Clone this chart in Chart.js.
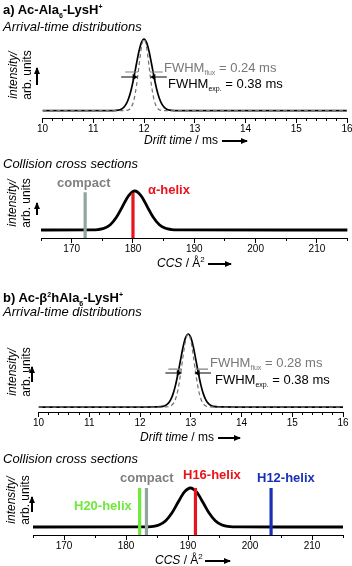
<!DOCTYPE html>
<html>
<head>
<meta charset="utf-8">
<script src="https://cdn.jsdelivr.net/npm/chart.js@4.4.1/dist/chart.umd.min.js"></script>
<style>
  html, body { margin: 0; padding: 0; background: #fff; }
  #fig { position: relative; width: 352px; height: 566px; overflow: hidden;
         font-family: "Liberation Sans", Arial, sans-serif; color: #000; }
  #fig canvas { position: absolute; left: 0; top: 0; }
  .t { position: absolute; white-space: nowrap; line-height: 1; }
  .t sub, .t sup { line-height: 0; }
  .h { font-weight: bold; font-size: 13px; }
  .h sub, .h sup { font-size: 7px; }
  .s { font-style: italic; font-size: 13px; }
  .fw { font-size: 13px; }
  .fw sub { font-size: 7px; vertical-align: -3px; }
  .ax { font-size: 12px; }
  .ax sup { font-size: 8px; }
  .lab { font-weight: bold; font-size: 13px; }
  .yl { position: absolute; width: 60px; height: 28px; font-size: 12px; line-height: 14px;
        text-align: center; white-space: nowrap; transform: rotate(-90deg); }
  .ha { position: absolute; height: 1.2px; background: #000; }
  .ha::after { content: ''; position: absolute; right: -1px; top: -2.4px;
               border-left: 7px solid #000; border-top: 3px solid transparent; border-bottom: 3px solid transparent; }
  .va { position: absolute; width: 1.4px; background: #000; }
  .va::before { content: ''; position: absolute; top: -1px; left: -2.3px;
                border-bottom: 7px solid #000; border-left: 3px solid transparent; border-right: 3px solid transparent; }
</style>
</head>
<body>
<div id="fig">
  <canvas id="atdA" width="370" height="566"></canvas>
  <canvas id="ccsA" width="370" height="566"></canvas>
  <canvas id="atdB" width="370" height="566"></canvas>
  <canvas id="ccsB" width="370" height="566"></canvas>
</div>
<script>
// tick labels
const driftTicks = [10, 11, 12, 13, 14, 15, 16];
const ccsTicks = [170, 180, 190, 200, 210];

// a) arrival-time distributions (normalised intensity)
const atdATime = [10, 11, 11.4, 11.5, 11.55, 11.6, 11.65, 11.7, 11.75, 11.8, 11.85, 11.9, 11.95, 12.0,
  12.05, 12.1, 12.15, 12.2, 12.25, 12.3, 12.35, 12.4, 12.45, 12.5, 12.6, 13, 14, 16];
const atdAExp = [0, 0, 0.001, 0.008, 0.020, 0.046, 0.094, 0.177, 0.300, 0.463, 0.648, 0.825, 0.953, 1,
  0.953, 0.825, 0.648, 0.463, 0.300, 0.177, 0.094, 0.046, 0.020, 0.008, 0.001, 0, 0, 0];
const atdAFlux = [0, 0, 0, 0, 0, 0, 0.003, 0.013, 0.050, 0.146, 0.339, 0.618, 0.887, 1,
  0.887, 0.618, 0.339, 0.146, 0.050, 0.013, 0.003, 0, 0, 0, 0, 0, 0, 0];
const atdACenter = 12.0;
const atdAFwhm = [0.38, 0.24]; // exp., flux

// a) collision cross sections
const ccsAValues = [165, 173.3, 174.3, 175.3, 176.3, 177.3, 178.3, 179.3, 180.3, 181.3, 182.3, 183.3,
  184.3, 185.3, 186.3, 187.3, 215];
const ccsAIntensity = [0, 0.002, 0.011, 0.044, 0.135, 0.325, 0.607, 0.882, 1, 0.882, 0.607, 0.325,
  0.135, 0.044, 0.011, 0.002, 0];
const ccsAStructs = ['compact', 'α-helix'];
const ccsAStructCCS = [172.2, 180.0];
const ccsAStructTop = [0.97, 0.95];

// b) arrival-time distributions
const atdBTime = [10, 11, 12, 12.35, 12.45, 12.5, 12.55, 12.6, 12.65, 12.7, 12.75, 12.8, 12.85, 12.9, 12.95,
  13.0, 13.05, 13.1, 13.15, 13.2, 13.25, 13.3, 13.35, 13.4, 13.45, 13.55, 14, 15, 16];
const atdBExp = [0, 0, 0, 0.001, 0.008, 0.020, 0.046, 0.094, 0.177, 0.300, 0.463, 0.648, 0.825, 0.953, 1,
  0.953, 0.825, 0.648, 0.463, 0.300, 0.177, 0.094, 0.046, 0.020, 0.008, 0.001, 0, 0, 0];
const atdBFlux = [0, 0, 0, 0, 0, 0.001, 0.004, 0.013, 0.042, 0.110, 0.243, 0.452, 0.702, 0.915, 1,
  0.915, 0.702, 0.452, 0.243, 0.110, 0.042, 0.013, 0.004, 0.001, 0, 0, 0, 0, 0];
const atdBCenter = 12.95;
const atdBFwhm = [0.38, 0.28];

// b) collision cross sections
const ccsBValues = [165, 182.4, 183.4, 184.4, 185.4, 186.4, 187.4, 188.4, 189.4, 190.4, 191.4, 192.4,
  193.4, 194.4, 195.4, 196.4, 197.4, 198.4, 215];
const ccsBIntensity = [0, 0.001, 0.004, 0.017, 0.059, 0.163, 0.360, 0.635, 0.893, 1, 0.893, 0.635,
  0.360, 0.163, 0.059, 0.017, 0.004, 0.001, 0];
const ccsBStructs = ['H20-helix', 'compact', 'H16-helix', 'H12-helix'];
const ccsBStructCCS = [182.2, 183.3, 191.2, 203.4];
const ccsBStructTop = [1.0, 1.0, 1.0, 1.0];

const structColors = {
  'compact': '#93a3a0', 'α-helix': '#e8131b', 'H20-helix': '#6ee83c',
  'H16-helix': '#e8131b', 'H12-helix': '#1830b8'
};

Chart.defaults.font.family = '"Liberation Sans", Arial, sans-serif';
Chart.defaults.font.size = 10;
Chart.defaults.color = '#000';

const fig = document.getElementById('fig');

function pts(xs, ys) {
  return xs.map((x, i) => ({ x: x, y: ys[i] }));
}

function curve(xs, ys, color, width, dash, order) {
  return { data: pts(xs, ys), borderColor: color, borderWidth: width, borderDash: dash || [],
    pointRadius: 0, fill: false, order: order };
}

function bar(x, top, bottom, color) {
  return { data: [{ x: x, y: bottom }, { x: x, y: top }], borderColor: color, borderWidth: 3.2,
    pointRadius: 0, order: 0 };
}

function arrow(tip, len, y, color, head) {
  const tail = tip + len;
  return { data: [{ x: tail, y: y }, { x: tip, y: y }], borderColor: color, borderWidth: 1.2,
    pointStyle: 'triangle', pointRadius: [0, head], pointRotation: [0, len < 0 ? 90 : -90],
    pointBackgroundColor: color, pointBorderColor: color, pointBorderWidth: 0, order: 0 };
}

// box = chart area in page pixels; the axis line sits at box.axis
function panel(id, box, xr, yr, ticks, minorStep, datasets) {
  const W = 370, H = 566;
  datasets.forEach(d => { d.xAxisID = 'x'; d.yAxisID = 'y'; });
  new Chart(document.getElementById(id), {
    type: 'line',
    data: { datasets: datasets },
    options: {
      responsive: false,
      animation: false,
      events: [],
      layout: { padding: { left: box.left, right: W - box.right, top: box.top, bottom: H - box.axis - 22 } },
      plugins: { legend: { display: false }, tooltip: { enabled: false } },
      elements: { line: { cubicInterpolationMode: 'monotone', borderCapStyle: 'butt' } },
      scales: {
        x: {
          type: 'linear', position: 'bottom', min: xr[0], max: xr[1], weight: 1,
          afterBuildTicks: s => { s.ticks = ticks.map(v => ({ value: v })); },
          afterFit: s => { s.height = 22; },
          ticks: { autoSkip: false, maxRotation: 0, padding: 0, color: '#000' },
          grid: { drawOnChartArea: false, tickLength: 5, color: '#000', lineWidth: 1 },
          border: { color: '#000', width: 1 }
        },
        xm: {
          type: 'linear', axis: 'x', position: 'bottom', min: xr[0], max: xr[1], weight: 0,
          afterFit: s => { s.height = 0; },
          ticks: { display: false, stepSize: minorStep },
          grid: { drawOnChartArea: false, tickLength: 3, color: '#000', lineWidth: 1 },
          border: { display: false }
        },
        y: { type: 'linear', display: false, min: yr[0], max: yr[1] }
      }
    }
  });
}

function txt(html, x, cy, cls, color) {
  const d = document.createElement('div');
  d.className = 't ' + cls;
  d.innerHTML = html;
  d.style.left = x + 'px';
  if (color) d.style.color = color;
  fig.appendChild(d);
  d.style.top = (cy - d.offsetHeight / 2) + 'px';
}

function ylab(cx, cy, ax, ay0, ay1) {
  const d = document.createElement('div');
  d.className = 'yl';
  d.innerHTML = '<i>intensity/</i><br>arb. units';
  d.style.left = (cx - 30) + 'px';
  d.style.top = (cy - 14) + 'px';
  fig.appendChild(d);
  const a = document.createElement('div');
  a.className = 'va';
  a.style.left = (ax - 0.7) + 'px';
  a.style.top = ay0 + 'px';
  a.style.height = (ay1 - ay0) + 'px';
  fig.appendChild(a);
}

function xArrow(x0, x1, y) {
  const a = document.createElement('div');
  a.className = 'ha';
  a.style.left = x0 + 'px';
  a.style.top = (y - 0.6) + 'px';
  a.style.width = (x1 - x0) + 'px';
  fig.appendChild(a);
}

// ---- a) ATD
const yA = [-0.102, 1.07];
panel('atdA', { left: 42.5, right: 347, top: 34, axis: 118 }, [10, 16], yA, driftTicks, 0.2, [
  curve(atdATime, atdAFlux, '#707070', 1.2, [4, 3], 1),
  curve(atdATime, atdAExp, '#000', 1.7, null, 2),
  arrow(atdACenter - atdAFwhm[0] / 2, -0.26, 0.47, '#000', 3.5),
  arrow(atdACenter + atdAFwhm[0] / 2, 0.26, 0.47, '#000', 3.5),
  arrow(atdACenter - atdAFwhm[1] / 2, -0.25, 0.54, '#808080', 0),
  arrow(atdACenter + atdAFwhm[1] / 2, 0.25, 0.54, '#808080', 0)
]);

// ---- a) CCS
const yCA = [-0.205, 1.282];
panel('ccsA', { left: 41, right: 347.6, top: 180, axis: 238 }, [165, 215], yCA, ccsTicks, 5, [
  curve(ccsAValues, ccsAIntensity, '#000', 2.8, null, 2)
].concat(ccsAStructs.map((s, i) => bar(ccsAStructCCS[i], ccsAStructTop[i], yCA[0], structColors[s]))));

// ---- b) ATD
const yB = [-0.068, 1.082];
panel('atdB', { left: 38.5, right: 343, top: 328, axis: 412 }, [10, 16], yB, driftTicks, 0.2, [
  curve(atdBTime, atdBFlux, '#707070', 1.2, [4, 3], 1),
  curve(atdBTime, atdBExp, '#000', 1.7, null, 2),
  arrow(atdBCenter - atdBFwhm[0] / 2, -0.26, 0.466, '#000', 3.5),
  arrow(atdBCenter + atdBFwhm[0] / 2, 0.26, 0.466, '#000', 3.5),
  arrow(atdBCenter - atdBFwhm[1] / 2, -0.25, 0.52, '#808080', 0),
  arrow(atdBCenter + atdBFwhm[1] / 2, 0.25, 0.52, '#808080', 0)
]);

// ---- b) CCS
const yCB = [-0.205, 1.462];
panel('ccsB', { left: 33, right: 343, top: 470, axis: 535 }, [165, 215], yCB, ccsTicks, 5, [
  curve(ccsBValues, ccsBIntensity, '#000', 2.8, null, 2)
].concat(ccsBStructs.map((s, i) => bar(ccsBStructCCS[i], ccsBStructTop[i], yCB[0], structColors[s]))));

// ---- text
txt('a) Ac-Ala<sub>6</sub>-LysH<sup>+</sup>', 3, 9, 'h');
txt('Arrival-time distributions', 3, 26, 's');
txt('FWHM<sub>flux</sub> = 0.24 ms', 164, 67, 'fw', '#777');
txt('FWHM<sub>exp.</sub> = 0.38 ms', 168, 83, 'fw');
ylab(20, 75, 37, 68, 85);
txt('<i>Drift time</i> / ms', 144, 140, 'ax');
xArrow(222, 247, 141);

txt('Collision cross sections', 3, 163, 's');
txt('compact', 57, 182, 'lab', '#808080');
txt('α-helix', 148, 189, 'lab', structColors['α-helix']);
ylab(19, 203, 37, 203, 215);
txt('<i>CCS</i> / Å<sup>2</sup>', 157, 263, 'ax');
xArrow(208, 231, 264);

txt('b) Ac-β<sup>2</sup>hAla<sub>6</sub>-LysH<sup>+</sup>', 3, 297, 'h');
txt('Arrival-time distributions', 3, 311, 's');
txt('FWHM<sub>flux</sub> = 0.28 ms', 210, 362, 'fw', '#777');
txt('FWHM<sub>exp.</sub> = 0.38 ms', 215, 379, 'fw');
ylab(19, 372, 32, 367, 382);
txt('<i>Drift time</i> / ms', 140, 437, 'ax');
xArrow(218, 240, 438);

txt('Collision cross sections', 3, 458, 's');
txt('compact', 120, 477, 'lab', '#808080');
txt('H16-helix', 183, 474, 'lab', structColors['H16-helix']);
txt('H12-helix', 257, 477, 'lab', structColors['H12-helix']);
txt('H20-helix', 74, 505, 'lab', structColors['H20-helix']);
ylab(18, 500, 32, 497, 512);
txt('<i>CCS</i> / Å<sup>2</sup>', 155, 560, 'ax');
xArrow(205, 230, 561);
</script>
</body>
</html>
